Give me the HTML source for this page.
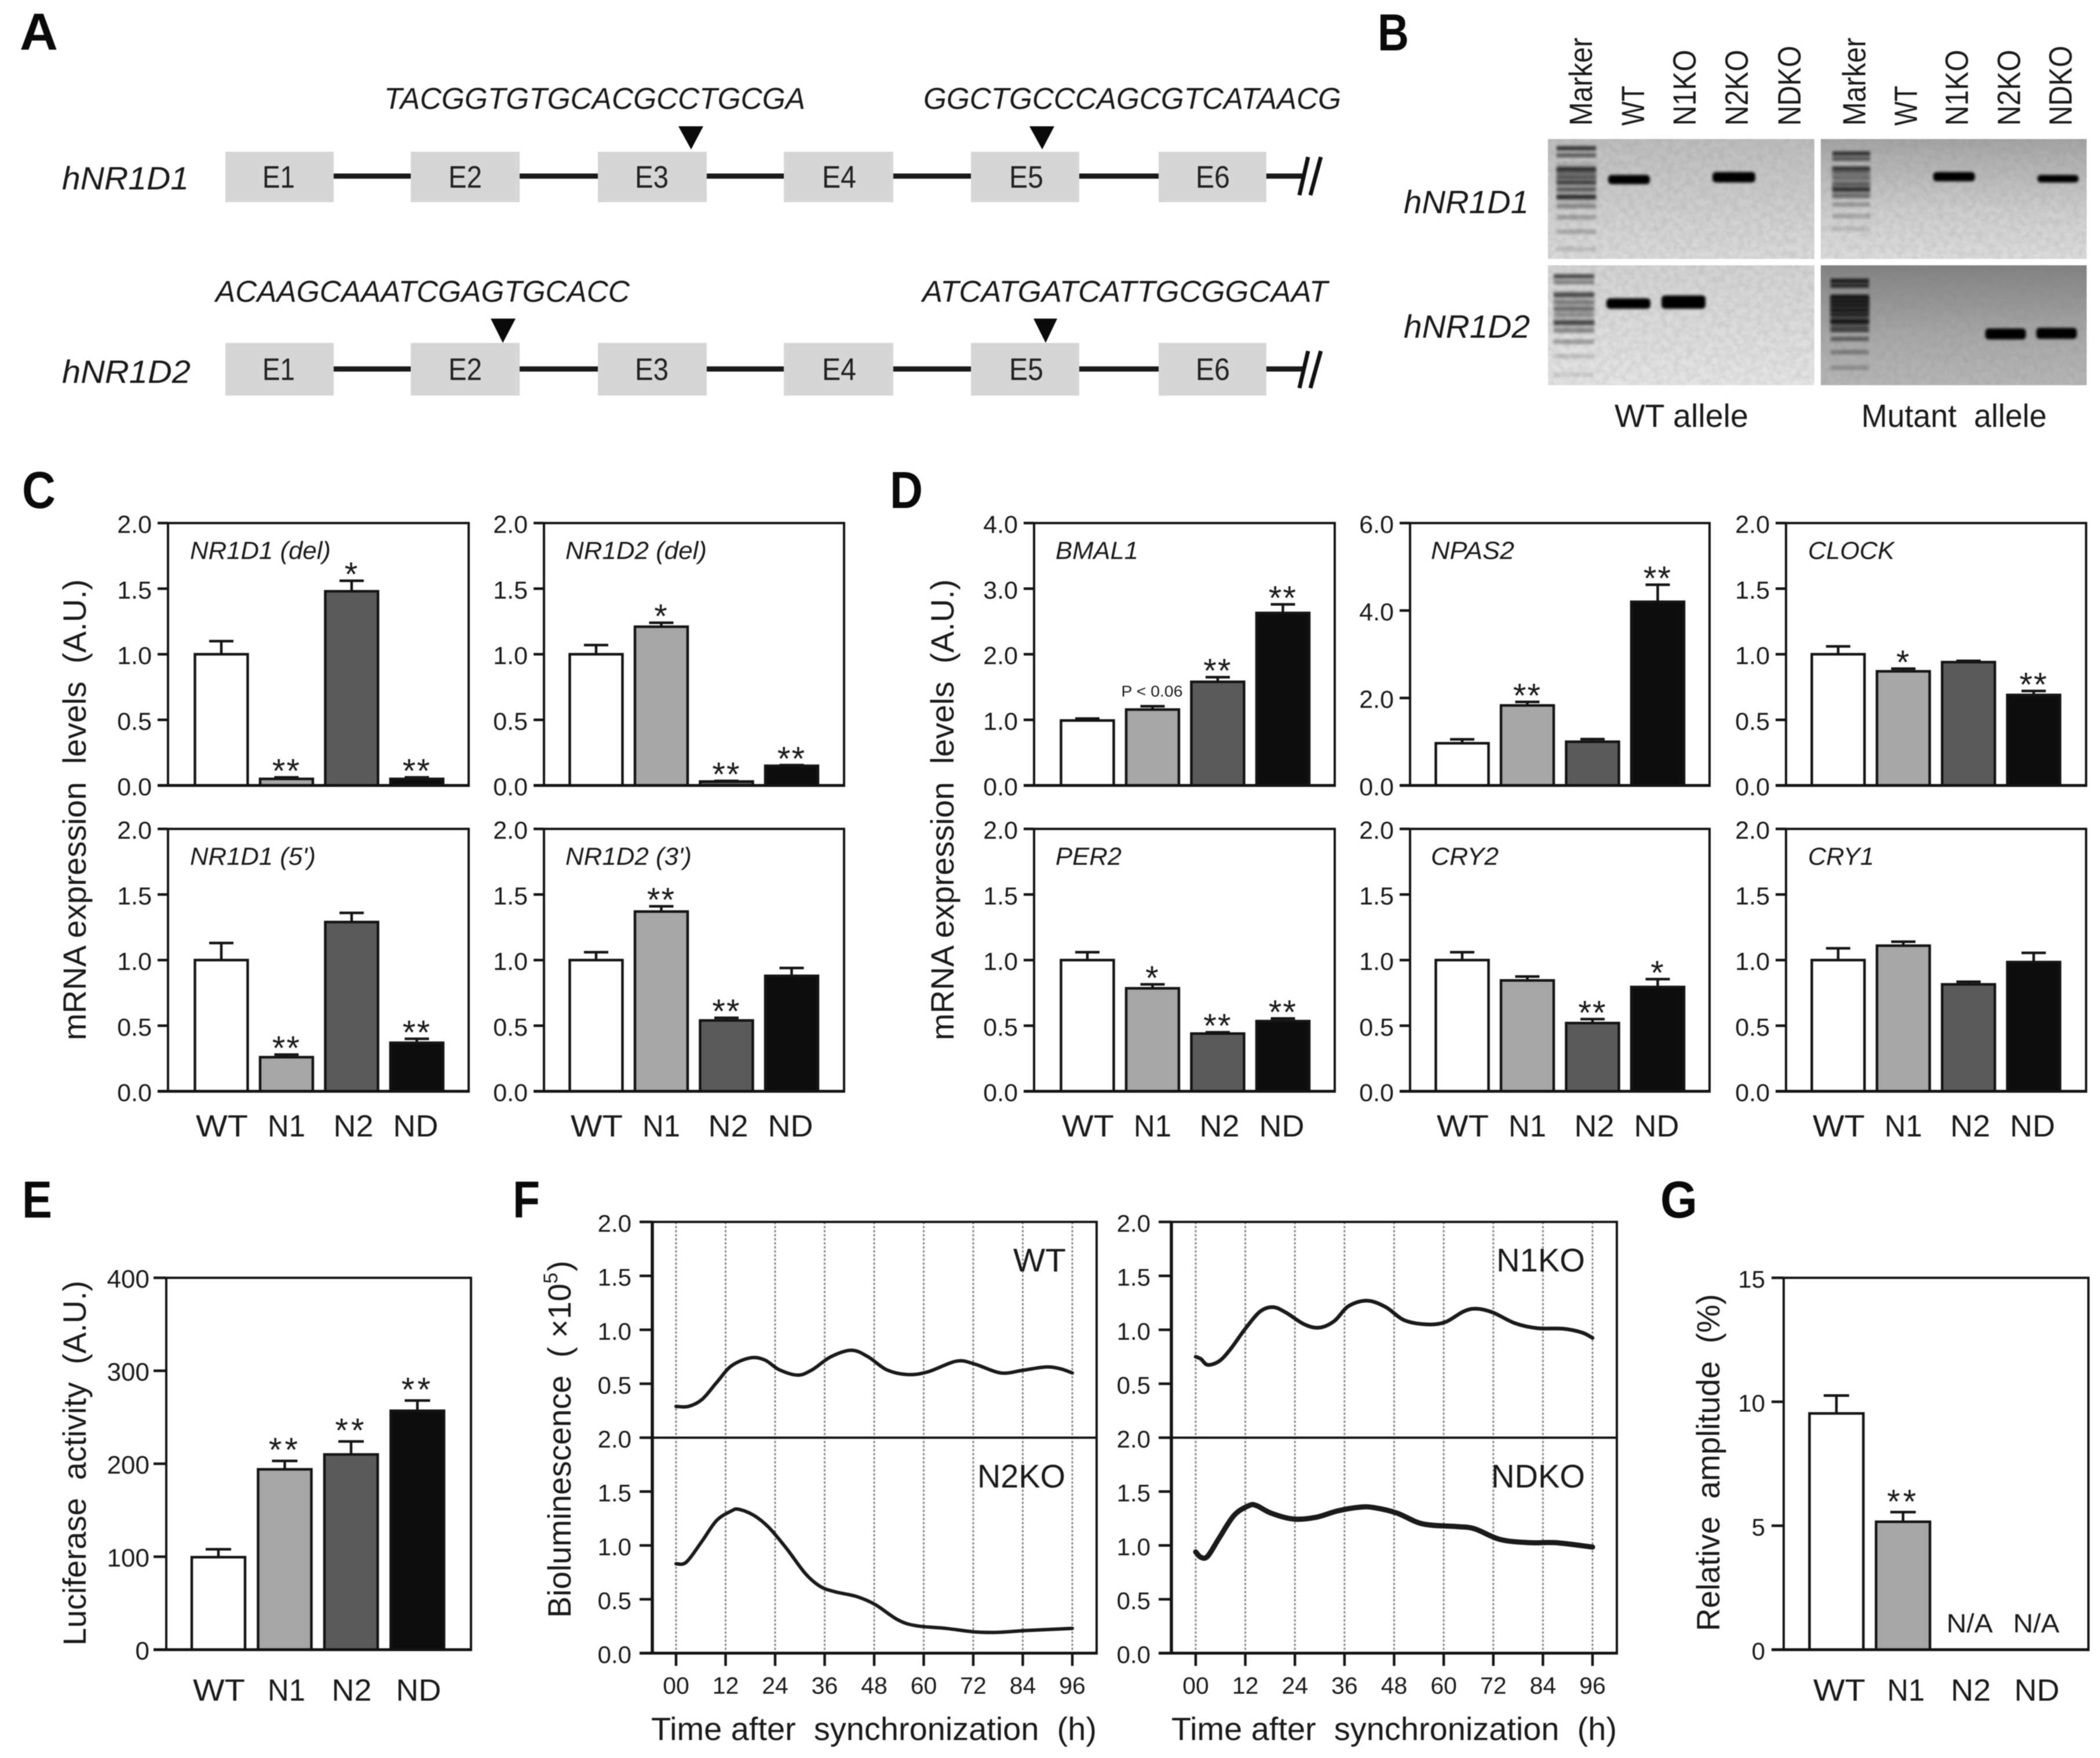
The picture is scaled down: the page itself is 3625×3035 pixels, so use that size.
<!DOCTYPE html>
<html lang="en">
<head>
<meta charset="utf-8">
<title>NR1D1 / NR1D2 knockout figure</title>
<style>
html,body{margin:0;padding:0;background:#fff;}
svg{display:block;font-family:"Liberation Sans",sans-serif;filter:blur(0.9px);}
svg text{fill:#1a1a1a;}
.ltr{font-weight:bold;font-size:90px;fill:#0a0a0a;}
.seq{font-style:italic;font-size:52px;}
.gene{font-style:italic;font-size:56px;}
.exon{font-size:54px;fill:#222;}
.lane{font-size:56px;}
.cap{font-size:56px;}
</style>
</head>
<body>
<svg id="fig" xmlns="http://www.w3.org/2000/svg" width="3625" height="3035" viewBox="0 0 3625 3035">
<defs>
<filter id="blurRung" x="-5%" y="-150%" width="110%" height="400%"><feGaussianBlur stdDeviation="2.2"/></filter>
<filter id="blurLane" x="-10%" y="-10%" width="120%" height="120%"><feGaussianBlur stdDeviation="3"/></filter>
<filter id="blurBand" x="-10%" y="-50%" width="120%" height="200%"><feGaussianBlur stdDeviation="2.4"/></filter>
<filter id="gelNoise" x="0" y="0" width="100%" height="100%">
<feTurbulence type="fractalNoise" baseFrequency="0.09" numOctaves="2" seed="7"/>
<feColorMatrix type="matrix" values="0 0 0 0 0.2  0 0 0 0 0.2  0 0 0 0 0.2  0.9 0 0 0 -0.3"/>
</filter>
<linearGradient id="gel1Bg" x1="0" y1="0" x2="0" y2="1"><stop offset="0" stop-color="#bcbcbc"/><stop offset="1" stop-color="#dadada"/></linearGradient>
<linearGradient id="gel2Bg" x1="0" y1="0" x2="0" y2="1"><stop offset="0" stop-color="#a4a4a4"/><stop offset="0.6" stop-color="#cdcdcd"/><stop offset="1" stop-color="#dcdcdc"/></linearGradient>
<linearGradient id="gel3Bg" x1="0" y1="0" x2="0" y2="1"><stop offset="0" stop-color="#d2d2d2"/><stop offset="1" stop-color="#e4e4e4"/></linearGradient>
<linearGradient id="gel4Bg" x1="0" y1="0" x2="0" y2="1"><stop offset="0" stop-color="#828282"/><stop offset="0.6" stop-color="#a8a8a8"/><stop offset="1" stop-color="#b6b6b6"/></linearGradient>
</defs>

<rect x="0" y="0" width="3625" height="3035" fill="#fff"/>

<text class="ltr" x="34" y="86" textLength="66" lengthAdjust="spacingAndGlyphs">A</text>
<text class="ltr" x="2378" y="87" textLength="54" lengthAdjust="spacingAndGlyphs">B</text>
<text class="ltr" x="38" y="877" textLength="58" lengthAdjust="spacingAndGlyphs">C</text>
<text class="ltr" x="1536" y="877" textLength="57" lengthAdjust="spacingAndGlyphs">D</text>
<text class="ltr" x="38" y="2102" textLength="52" lengthAdjust="spacingAndGlyphs">E</text>
<text class="ltr" x="885" y="2102" textLength="47" lengthAdjust="spacingAndGlyphs">F</text>
<text class="ltr" x="2866" y="2102" textLength="64" lengthAdjust="spacingAndGlyphs">G</text>

<g>
<line x1="389" y1="304" x2="2250" y2="304" stroke="#1a1a1a" stroke-width="9"/>
<line x1="2243" y1="337" x2="2258" y2="271" stroke="#111" stroke-width="7"/>
<line x1="2262" y1="337" x2="2280" y2="271" stroke="#111" stroke-width="7"/>
<rect x="389" y="262" width="187" height="87" fill="#d6d6d6"/>
<rect x="709" y="262" width="188" height="87" fill="#d6d6d6"/>
<rect x="1032" y="262" width="188" height="87" fill="#d6d6d6"/>
<rect x="1353" y="262" width="189" height="87" fill="#d6d6d6"/>
<rect x="1676" y="262" width="187" height="87" fill="#d6d6d6"/>
<rect x="2000" y="262" width="186" height="87" fill="#d6d6d6"/>
<text class="exon" x="453" y="324" textLength="56" lengthAdjust="spacingAndGlyphs">E1</text>
<text class="exon" x="774" y="324" textLength="58" lengthAdjust="spacingAndGlyphs">E2</text>
<text class="exon" x="1096" y="324" textLength="58" lengthAdjust="spacingAndGlyphs">E3</text>
<text class="exon" x="1419" y="324" textLength="59" lengthAdjust="spacingAndGlyphs">E4</text>
<text class="exon" x="1742" y="324" textLength="59" lengthAdjust="spacingAndGlyphs">E5</text>
<text class="exon" x="2064" y="324" textLength="59" lengthAdjust="spacingAndGlyphs">E6</text>
<polygon points="1171,218 1214,218 1193,258" fill="#0a0a0a"/>
<polygon points="1777,218 1820,218 1799,258" fill="#0a0a0a"/>
<text class="gene" x="107" y="327" textLength="219" lengthAdjust="spacingAndGlyphs">hNR1D1</text>
<text class="seq" x="663" y="188" textLength="727" lengthAdjust="spacingAndGlyphs">TACGGTGTGCACGCCTGCGA</text>
<text class="seq" x="1594" y="188" textLength="721" lengthAdjust="spacingAndGlyphs">GGCTGCCCAGCGTCATAACG</text>
</g>

<g>
<line x1="389" y1="637" x2="2250" y2="637" stroke="#1a1a1a" stroke-width="9"/>
<line x1="2243" y1="670" x2="2258" y2="606" stroke="#111" stroke-width="7"/>
<line x1="2262" y1="670" x2="2280" y2="606" stroke="#111" stroke-width="7"/>
<rect x="389" y="592" width="187" height="91" fill="#d6d6d6"/>
<rect x="709" y="592" width="188" height="91" fill="#d6d6d6"/>
<rect x="1032" y="592" width="188" height="91" fill="#d6d6d6"/>
<rect x="1353" y="592" width="189" height="91" fill="#d6d6d6"/>
<rect x="1676" y="592" width="187" height="91" fill="#d6d6d6"/>
<rect x="2000" y="592" width="186" height="91" fill="#d6d6d6"/>
<text class="exon" x="453" y="656" textLength="56" lengthAdjust="spacingAndGlyphs">E1</text>
<text class="exon" x="774" y="656" textLength="58" lengthAdjust="spacingAndGlyphs">E2</text>
<text class="exon" x="1096" y="656" textLength="58" lengthAdjust="spacingAndGlyphs">E3</text>
<text class="exon" x="1419" y="656" textLength="59" lengthAdjust="spacingAndGlyphs">E4</text>
<text class="exon" x="1742" y="656" textLength="59" lengthAdjust="spacingAndGlyphs">E5</text>
<text class="exon" x="2064" y="656" textLength="59" lengthAdjust="spacingAndGlyphs">E6</text>
<polygon points="847,550 890,550 868,592" fill="#0a0a0a"/>
<polygon points="1784,550 1825,550 1805,592" fill="#0a0a0a"/>
<text class="gene" x="107" y="661" textLength="222" lengthAdjust="spacingAndGlyphs">hNR1D2</text>
<text class="seq" x="372" y="521" textLength="715" lengthAdjust="spacingAndGlyphs">ACAAGCAAATCGAGTGCACC</text>
<text class="seq" x="1592" y="521" textLength="700" lengthAdjust="spacingAndGlyphs">ATCATGATCATTGCGGCAAT</text>
</g>

<g id="gelLayer"></g>
<g>
<text class="lane" transform="rotate(-90 2748 217)" x="2748" y="217" textLength="152" lengthAdjust="spacingAndGlyphs">Marker</text>
<text class="lane" transform="rotate(-90 2838 217)" x="2838" y="217" textLength="69" lengthAdjust="spacingAndGlyphs">WT</text>
<text class="lane" transform="rotate(-90 2927 217)" x="2927" y="217" textLength="131" lengthAdjust="spacingAndGlyphs">N1KO</text>
<text class="lane" transform="rotate(-90 3017 217)" x="3017" y="217" textLength="131" lengthAdjust="spacingAndGlyphs">N2KO</text>
<text class="lane" transform="rotate(-90 3108 217)" x="3108" y="217" textLength="138" lengthAdjust="spacingAndGlyphs">NDKO</text>
<text class="lane" transform="rotate(-90 3220 217)" x="3220" y="217" textLength="152" lengthAdjust="spacingAndGlyphs">Marker</text>
<text class="lane" transform="rotate(-90 3309 217)" x="3309" y="217" textLength="69" lengthAdjust="spacingAndGlyphs">WT</text>
<text class="lane" transform="rotate(-90 3397 217)" x="3397" y="217" textLength="131" lengthAdjust="spacingAndGlyphs">N1KO</text>
<text class="lane" transform="rotate(-90 3487 217)" x="3487" y="217" textLength="131" lengthAdjust="spacingAndGlyphs">N2KO</text>
<text class="lane" transform="rotate(-90 3576 217)" x="3576" y="217" textLength="138" lengthAdjust="spacingAndGlyphs">NDKO</text>
<text class="gene" x="2423" y="368" textLength="216" lengthAdjust="spacingAndGlyphs">hNR1D1</text>
<text class="gene" x="2423" y="583" textLength="218" lengthAdjust="spacingAndGlyphs">hNR1D2</text>
<text class="cap" x="2787" y="737" textLength="231" lengthAdjust="spacingAndGlyphs">WT allele</text>
<text class="cap" x="3213" y="737" textLength="320" lengthAdjust="spacingAndGlyphs">Mutant&#160;&#160;allele</text>
</g>

<text class="cap" transform="rotate(-90 148 1796)" x="148" y="1796" font-size="57" textLength="796" lengthAdjust="spacingAndGlyphs">mRNA expression&#160;&#160;levels&#160;&#160;(A.U.)</text>
<text class="cap" transform="rotate(-90 1646 1796)" x="1646" y="1796" font-size="57" textLength="796" lengthAdjust="spacingAndGlyphs">mRNA expression&#160;&#160;levels&#160;&#160;(A.U.)</text>
<text class="cap" transform="rotate(-90 148 2841)" x="148" y="2841" textLength="630" lengthAdjust="spacingAndGlyphs">Luciferase&#160;&#160;activity&#160;&#160;(A.U.)</text>
<text class="cap" transform="rotate(-90 2968 2816)" x="2968" y="2816" textLength="582" lengthAdjust="spacingAndGlyphs">Relative&#160;&#160;amplitude&#160;&#160;(%)</text>
<text class="cap" transform="rotate(-90 985 2793)" x="985" y="2793" textLength="577" lengthAdjust="spacingAndGlyphs">Bioluminescence&#160;&#160;(&#160;×10</text>
<text transform="rotate(-90 962 2216)" x="962" y="2216" font-size="34">5</text>
<text class="cap" transform="rotate(-90 985 2195)" x="985" y="2195">)</text>
<text class="cap" x="1124" y="3004" textLength="769" lengthAdjust="spacingAndGlyphs">Time after&#160;&#160;synchronization&#160;&#160;(h)</text>
<text class="cap" x="2022" y="3004" textLength="769" lengthAdjust="spacingAndGlyphs">Time after&#160;&#160;synchronization&#160;&#160;(h)</text>

<g id="chartLayer"></g>
</svg>

<script>
// ---------- chart data ----------
const categories = ['WT', 'N1', 'N2', 'ND'];
const ticks2 = [0, 0.5, 1, 1.5, 2];
const tickLabels2 = ['0.0', '0.5', '1.0', '1.5', '2.0'];
const ticksBmal = [0, 1, 2, 3, 4];
const tickLabelsBmal = ['0.0', '1.0', '2.0', '3.0', '4.0'];
const ticksNpas = [0, 2, 4, 6];
const tickLabelsNpas = ['0.0', '2.0', '4.0', '6.0'];
const ticksLuc = [0, 100, 200, 300, 400];
const tickLabelsLuc = ['0', '100', '200', '300', '400'];
const ticksAmp = [0, 5, 10, 15];
const tickLabelsAmp = ['0', '5', '10', '15'];

const nr1d1DelValues = [1.0, 0.05, 1.48, 0.05];
const nr1d1DelErrors = [0.10, 0.012, 0.08, 0.012];
const nr1d1DelSig = ['', '**', '*', '**'];
const nr1d2DelValues = [1.0, 1.21, 0.03, 0.15];
const nr1d2DelErrors = [0.07, 0.03, 0.005, 0.005];
const nr1d2DelSig = ['', '*', '**', '**'];
const nr1d15Values = [1.0, 0.26, 1.29, 0.37];
const nr1d15Errors = [0.13, 0.02, 0.07, 0.03];
const nr1d15Sig = ['', '**', '', '**'];
const nr1d23Values = [1.0, 1.37, 0.54, 0.88];
const nr1d23Errors = [0.06, 0.04, 0.02, 0.06];
const nr1d23Sig = ['', '**', '**', ''];

const bmal1Values = [0.99, 1.157, 1.58, 2.63];
const bmal1Errors = [0.03, 0.05, 0.07, 0.13];
const bmal1Sig = ['', 'P < 0.06', '**', '**'];
const npas2Values = [0.965, 1.83, 1.0, 4.2];
const npas2Errors = [0.09, 0.08, 0.06, 0.39];
const npas2Sig = ['', '**', '', '**'];
const clockValues = [1.0, 0.87, 0.94, 0.69];
const clockErrors = [0.06, 0.02, 0.01, 0.03];
const clockSig = ['', '*', '', '**'];
const per2Values = [1.0, 0.785, 0.44, 0.535];
const per2Errors = [0.06, 0.03, 0.01, 0.02];
const per2Sig = ['', '*', '**', '**'];
const cry2Values = [1.0, 0.845, 0.52, 0.795];
const cry2Errors = [0.06, 0.03, 0.03, 0.06];
const cry2Sig = ['', '', '**', '*'];
const cry1Values = [1.0, 1.11, 0.815, 0.985];
const cry1Errors = [0.09, 0.03, 0.02, 0.07];
const cry1Sig = ['', '', '', ''];

const luciferaseValues = [99.5, 194, 210, 257];
const luciferaseErrors = [8.5, 9, 14, 11];
const luciferaseSig = ['', '**', '**', '**'];
const amplitudeValues = [9.53, 5.16, null, null];
const amplitudeErrors = [0.72, 0.39, 0, 0];
const amplitudeSig = ['', '**', '', ''];

const hourTicks = [0, 12, 24, 36, 48, 60, 72, 84, 96];
const hourTickLabels = ['00', '12', '24', '36', '48', '60', '72', '84', '96'];
const lumTicksUpper = [0.5, 1, 1.5, 2];
const lumTicksLower = [0, 0.5, 1, 1.5, 2];
const lumTickLabelsUpper = ['0.5', '1.0', '1.5', '2.0'];
const lumTickLabelsLower = ['0.0', '0.5', '1.0', '1.5', '2.0'];

const wtHours = [0, 3, 6.3, 9.8, 13.4, 18, 21.5, 25, 29.5, 33, 37.5, 42.5, 46.5, 51, 56, 61, 68, 72.5, 78.7, 84, 89.5, 93, 96];
const wtLum = [0.29, 0.29, 0.355, 0.51, 0.665, 0.74, 0.72, 0.63, 0.58, 0.63, 0.75, 0.81, 0.75, 0.63, 0.585, 0.61, 0.71, 0.68, 0.60, 0.625, 0.655, 0.64, 0.6];
const n2koHours = [0, 2.5, 6.3, 9.8, 13.4, 15.2, 18.8, 22.4, 26.8, 31.3, 34.9, 38.5, 43.8, 48.3, 53.7, 58.1, 65.3, 72.5, 77.8, 85, 96];
const n2koLum = [0.83, 0.845, 1.04, 1.23, 1.32, 1.335, 1.28, 1.17, 0.97, 0.74, 0.62, 0.57, 0.525, 0.45, 0.31, 0.255, 0.23, 0.197, 0.193, 0.21, 0.23];
const n1koHours = [0, 1.25, 2.9, 5.7, 8.4, 12, 15.6, 18.7, 21.8, 26.3, 29.9, 33.5, 37, 41.5, 46, 50.4, 55.8, 60.3, 64.8, 67.9, 71.9, 77.3, 82.6, 88.9, 93.4, 96];
const n1koLum = [0.75, 0.73, 0.675, 0.71, 0.82, 1.01, 1.17, 1.21, 1.16, 1.05, 1.02, 1.08, 1.22, 1.27, 1.21, 1.09, 1.05, 1.07, 1.17, 1.195, 1.16, 1.06, 1.015, 1.01, 0.975, 0.925];
const ndkoHours = [0, 1.25, 2.9, 5.7, 9.3, 12.9, 14.7, 18.2, 23.6, 29, 34.3, 39.7, 43.3, 48.7, 54.9, 63, 67.4, 73.7, 80.9, 87.1, 96];
const ndkoLum = [0.94, 0.89, 0.90, 1.07, 1.28, 1.37, 1.37, 1.30, 1.245, 1.26, 1.32, 1.355, 1.35, 1.30, 1.2, 1.175, 1.155, 1.055, 1.025, 1.025, 0.985];

// ---------- gel image content (band centre, darkness) ----------
const gel1Rungs = [[256,.85],[268,.6],[292,.85],[298,.45],[306,.6],[315,.75],[327,.55],[340,.9],[356,.4],[375,.3],[400,.25],[430,.15]];
const gel2Rungs = [[265,.85],[274,.6],[291,.8],[298,.35],[307,.35],[318,.5],[327,.85],[338,.4],[353,.3],[373,.25],[395,.15]];
const gel3Rungs = [[477,.75],[487,.45],[509,.7],[522,.35],[533,.45],[543,.25],[557,.75],[571,.4],[590,.35],[615,.15],[647,.12]];
const gel4Rungs = [[485,1],[493,.9],[513,1],[520,.9],[527,.9],[535,.9],[543,.75],[555,1],[570,.6],[585,.55],[608,.35],[635,.25]];

// ---------- helpers ----------
const NS = 'http://www.w3.org/2000/svg';
const chartLayer = document.getElementById('chartLayer');
const gelLayer = document.getElementById('gelLayer');
const INK = '#141414';

function mk(tag, attrs, parent) {
  const el = document.createElementNS(NS, tag);
  for (const k in attrs) el.setAttribute(k, attrs[k]);
  parent.appendChild(el);
  return el;
}
function txt(str, attrs, parent) {
  const el = mk('text', attrs, parent);
  el.textContent = str;
  return el;
}

// ---------- gels ----------
function drawGel(cfg) {
  const g = mk('g', {}, gelLayer);
  
  
  const bg = mk('rect', {x: cfg.x, y: cfg.y, width: cfg.w, height: cfg.h, fill: cfg.fill}, g);
  
  
  const noise = mk('rect', {x: cfg.x, y: cfg.y, width: cfg.w, height: cfg.h, filter: 'url(#gelNoise)', opacity: 0.35}, g);
  
  
  const first = cfg.rungs[0][0];
  const last = cfg.rungs[cfg.rungs.length - 1][0];
  const lane = mk('rect', {x: cfg.ladderX, y: first + 25, width: cfg.ladderW, height: (last - first) * 0.4, fill: '#101010', opacity: cfg.laneOpacity, filter: 'url(#blurLane)'}, g);
  
  
  cfg.rungs.forEach(function (r) {
    const rung = mk('rect', {x: cfg.ladderX, y: r[0] - 4, width: cfg.ladderW, height: 8, fill: '#0c0c0c', opacity: r[1] * 0.85, filter: 'url(#blurRung)'}, g);
    
    
  });
  cfg.bands.forEach(function (b) {
    const band = mk('rect', {x: b[0], y: b[2], width: b[1] - b[0], height: b[3] - b[2], rx: 6, fill: '#050505', filter: 'url(#blurBand)'}, g);
    
    
  });
}
drawGel({name: 'wt-allele-hnr1d1', x: 2672, y: 240, w: 460, h: 207, fill: 'url(#gel1Bg)', ladderX: 2687, ladderW: 68, laneOpacity: 0.15, rungs: gel1Rungs, bands: [[2776, 2848, 302, 318], [2956, 3030, 297, 315]]});
drawGel({name: 'mutant-allele-hnr1d1', x: 3143, y: 240, w: 459, h: 207, fill: 'url(#gel2Bg)', ladderX: 3163, ladderW: 65, laneOpacity: 0.2, rungs: gel2Rungs, bands: [[3337, 3409, 297, 313], [3517, 3588, 302, 315]]});
drawGel({name: 'wt-allele-hnr1d2', x: 2672, y: 458, w: 460, h: 207, fill: 'url(#gel3Bg)', ladderX: 2682, ladderW: 70, laneOpacity: 0.18, rungs: gel3Rungs, bands: [[2773, 2849, 515, 533], [2868, 2944, 510, 533]]});
drawGel({name: 'mutant-allele-hnr1d2', x: 3143, y: 458, w: 459, h: 207, fill: 'url(#gel4Bg)', ladderX: 3160, ladderW: 66, laneOpacity: 0.5, rungs: gel4Rungs, bands: [[3427, 3497, 567, 586], [3515, 3585, 566, 585]]});

// ---------- bar panels ----------
const barFills = ['#ffffff', '#a6a6a6', '#5a5a5a', '#0d0d0d'];
const xLabelWidths = {WT: 90, N1: 65, N2: 69, ND: 78};

function drawBarPanel(cfg) {
  const g = mk('g', {}, chartLayer);
  
  
  const yOf = function (v) { return cfg.bottom - v / cfg.yMax * (cfg.bottom - cfg.top); };
  const xOf = function (i) { return cfg.left + cfg.offset + i * cfg.pitch; };

  const frame = mk('rect', {x: cfg.left, y: cfg.top, width: cfg.right - cfg.left, height: cfg.bottom - cfg.top, fill: 'none', stroke: INK, 'stroke-width': 4}, g);
  
  

  cfg.ticks.forEach(function (t, i) {
    const y = yOf(t);
    const tick = mk('line', {x1: cfg.left - cfg.tickLen, x2: cfg.left, y1: y, y2: y, stroke: INK, 'stroke-width': 4.5}, g);
    
    
    const lab = txt(cfg.tickLabels[i], {x: cfg.left - cfg.tickLen - cfg.labelGap, y: y + 17, 'text-anchor': 'end', 'font-size': cfg.tickSize}, g);
    
    
  });

  categories.forEach(function (c, i) {
    const v = cfg.values[i];
    const cx = xOf(i);
    if (v === null) {
      const na = txt('N/A', {x: cx, y: cfg.bottom - 30, 'text-anchor': 'middle', 'font-size': 45, textLength: 80, lengthAdjust: 'spacingAndGlyphs'}, g);
      
      
    } else {
      const top = yOf(v);
      const errTop = yOf(v + cfg.errors[i]);
      const stem = mk('line', {x1: cx, x2: cx, y1: top, y2: errTop, stroke: INK, 'stroke-width': 4.5}, g);
      
      
      const cap = mk('line', {x1: cx - cfg.capW / 2, x2: cx + cfg.capW / 2, y1: errTop, y2: errTop, stroke: INK, 'stroke-width': 4.5}, g);
      
      
      const bar = mk('rect', {x: cx - cfg.barW / 2, y: top, width: cfg.barW, height: cfg.bottom - top, fill: barFills[i], stroke: INK, 'stroke-width': 4.5}, g);
      
      
      const s = cfg.sig[i];
      if (s && s.charAt(0) === 'P') {
        const p = txt(s, {x: cx - 1, y: errTop - 17, 'text-anchor': 'middle', 'font-size': 27, textLength: 106, lengthAdjust: 'spacingAndGlyphs'}, g);
        
        
      } else if (s) {
        const st = txt(s, {x: cx, y: errTop + 9 + (cfg.starDy || 0), 'text-anchor': 'middle', 'font-size': 58, 'letter-spacing': cfg.starGap || 2}, g);
        
        
      }
    }
    if (cfg.xLabelY) {
      const xl = txt(c, {x: cx + cfg.labelDx[i], y: cfg.xLabelY, 'text-anchor': 'middle', 'font-size': 53, textLength: xLabelWidths[c], lengthAdjust: 'spacingAndGlyphs'}, g);
      
      
    }
  });

  const base = mk('line', {x1: cfg.left - cfg.tickLen, x2: cfg.right + 2, y1: cfg.bottom, y2: cfg.bottom, stroke: INK, 'stroke-width': 5}, g);
  
  

  if (cfg.title) {
    const t = txt(cfg.title, {x: cfg.left + cfg.titleDx, y: cfg.top + 62, 'font-style': 'italic', 'font-size': 43, textLength: cfg.titleW, lengthAdjust: 'spacingAndGlyphs'}, g);
    
    
  }
}

const rowTop = {top: 903, bottom: 1356};
const rowBot = {top: 1431, bottom: 1884, xLabelY: 1962};
const barStyle = {pitch: 112.5, barW: 91, capW: 42, tickLen: 18, labelGap: 10, tickSize: 43, labelDx: [1, 0, 3, -2]};
const colC1 = {left: 290, right: 809, offset: 92, titleDx: 38};
const colC2 = {left: 939, right: 1457, offset: 90, titleDx: 37};
const colD1 = {left: 1785, right: 2304, offset: 92, titleDx: 37};
const colD2 = {left: 2434, right: 2951, offset: 90, titleDx: 36};
const colD3 = {left: 3083, right: 3601, offset: 90, titleDx: 38};
const axis2 = {yMax: 2, ticks: ticks2, tickLabels: tickLabels2};

drawBarPanel(Object.assign({name: 'nr1d1-del', title: 'NR1D1 (del)', titleW: 243, values: nr1d1DelValues, errors: nr1d1DelErrors, sig: nr1d1DelSig}, barStyle, axis2, rowTop, colC1));
drawBarPanel(Object.assign({name: 'nr1d2-del', title: 'NR1D2 (del)', titleW: 244, values: nr1d2DelValues, errors: nr1d2DelErrors, sig: nr1d2DelSig}, barStyle, axis2, rowTop, colC2));
drawBarPanel(Object.assign({name: 'nr1d1-5p', title: "NR1D1 (5')", titleW: 217, values: nr1d15Values, errors: nr1d15Errors, sig: nr1d15Sig}, barStyle, axis2, rowBot, colC1));
drawBarPanel(Object.assign({name: 'nr1d2-3p', title: "NR1D2 (3')", titleW: 218, values: nr1d23Values, errors: nr1d23Errors, sig: nr1d23Sig}, barStyle, axis2, rowBot, colC2));

drawBarPanel(Object.assign({name: 'bmal1', title: 'BMAL1', titleW: 143, values: bmal1Values, errors: bmal1Errors, sig: bmal1Sig, yMax: 4, ticks: ticksBmal, tickLabels: tickLabelsBmal}, barStyle, rowTop, colD1));
drawBarPanel(Object.assign({name: 'npas2', title: 'NPAS2', titleW: 144, values: npas2Values, errors: npas2Errors, sig: npas2Sig, yMax: 6, ticks: ticksNpas, tickLabels: tickLabelsNpas}, barStyle, rowTop, colD2));
drawBarPanel(Object.assign({name: 'clock', title: 'CLOCK', titleW: 149, values: clockValues, errors: clockErrors, sig: clockSig}, barStyle, axis2, rowTop, colD3));
drawBarPanel(Object.assign({name: 'per2', title: 'PER2', titleW: 114, values: per2Values, errors: per2Errors, sig: per2Sig}, barStyle, axis2, rowBot, colD1));
drawBarPanel(Object.assign({name: 'cry2', title: 'CRY2', titleW: 117, values: cry2Values, errors: cry2Errors, sig: cry2Sig}, barStyle, axis2, rowBot, colD2));
drawBarPanel(Object.assign({name: 'cry1', title: 'CRY1', titleW: 114, values: cry1Values, errors: cry1Errors, sig: cry1Sig}, barStyle, axis2, rowBot, colD3));

drawBarPanel({name: 'luciferase', values: luciferaseValues, errors: luciferaseErrors, sig: luciferaseSig, yMax: 400, ticks: ticksLuc, tickLabels: tickLabelsLuc,
  left: 287, right: 813, top: 2206, bottom: 2848, offset: 90, pitch: 114.5, barW: 92, capW: 44, tickLen: 22, labelGap: 7, tickSize: 44, xLabelY: 2936, labelDx: [1, 3, 1, 2], starDy: -8, starGap: 5});
drawBarPanel({name: 'relative-amplitude', values: amplitudeValues, errors: amplitudeErrors, sig: amplitudeSig, yMax: 15, ticks: ticksAmp, tickLabels: tickLabelsAmp,
  left: 3079, right: 3605, top: 2206, bottom: 2848, offset: 91, pitch: 115, barW: 93, capW: 44, tickLen: 21, labelGap: 11, tickSize: 42, xLabelY: 2936, labelDx: [5, 5, 2, 1], starDy: -7, starGap: 5});

// ---------- line panels ----------
function smoothPath(points) {
  let d = 'M' + points[0][0].toFixed(1) + ' ' + points[0][1].toFixed(1);
  for (let i = 0; i < points.length - 1; i++) {
    const p0 = points[Math.max(i - 1, 0)];
    const p1 = points[i];
    const p2 = points[i + 1];
    const p3 = points[Math.min(i + 2, points.length - 1)];
    const c1x = p1[0] + (p2[0] - p0[0]) / 6;
    const c1y = p1[1] + (p2[1] - p0[1]) / 6;
    const c2x = p2[0] - (p3[0] - p1[0]) / 6;
    const c2y = p2[1] - (p3[1] - p1[1]) / 6;
    d += 'C' + c1x.toFixed(1) + ' ' + c1y.toFixed(1) + ' ' + c2x.toFixed(1) + ' ' + c2y.toFixed(1) + ' ' + p2[0].toFixed(1) + ' ' + p2[1].toFixed(1);
  }
  return d;
}

function drawLineColumn(cfg) {
  const g = mk('g', {}, chartLayer);
  
  
  const T = 2109.5, M = 2482, B = 2854;
  const xOf = function (h) { return cfg.x0 + h / 96 * (cfg.x96 - cfg.x0); };
  const yUp = function (v) { return M - v / 2 * (M - T); };
  const yLo = function (v) { return B - v / 2 * (B - M); };

  hourTicks.forEach(function (h, i) {
    const x = xOf(h);
    const grid = mk('line', {x1: x, x2: x, y1: T, y2: B, stroke: '#8c8c8c', 'stroke-width': 3, 'stroke-dasharray': '4 3'}, g);
    
    
    const tick = mk('line', {x1: x, x2: x, y1: B, y2: B + 22, stroke: INK, 'stroke-width': 4.5}, g);
    
    
    const lab = txt(hourTickLabels[i], {x: x, y: 2924, 'text-anchor': 'middle', 'font-size': 41}, g);
    
    
  });

  const frame = mk('rect', {x: cfg.left, y: T, width: cfg.right - cfg.left, height: B - T, fill: 'none', stroke: INK, 'stroke-width': 4}, g);
  
  
  const leftAxis = mk('line', {x1: cfg.left, x2: cfg.left, y1: T, y2: B, stroke: INK, 'stroke-width': 5.5}, g);
  
  
  const divider = mk('line', {x1: cfg.left - 22, x2: cfg.right, y1: M, y2: M, stroke: INK, 'stroke-width': 4}, g);
  
  
  const base = mk('line', {x1: cfg.left - 22, x2: cfg.right + 2, y1: B, y2: B, stroke: INK, 'stroke-width': 5}, g);
  
  

  lumTicksUpper.forEach(function (t, i) {
    const y = yUp(t);
    const tick = mk('line', {x1: cfg.left - 22, x2: cfg.left, y1: y, y2: y, stroke: INK, 'stroke-width': 4.5}, g);
    
    
    const lab = txt(lumTickLabelsUpper[i], {x: cfg.left - 36, y: y + 17, 'text-anchor': 'end', 'font-size': 42}, g);
    
    
  });
  lumTicksLower.forEach(function (t, i) {
    const y = yLo(t);
    const tick = mk('line', {x1: cfg.left - 22, x2: cfg.left, y1: y, y2: y, stroke: INK, 'stroke-width': 4.5}, g);
    
    
    const lab = txt(lumTickLabelsLower[i], {x: cfg.left - 36, y: y + 17, 'text-anchor': 'end', 'font-size': 42}, g);
    
    
  });

  const upPts = cfg.upHours.map(function (h, i) { return [xOf(h), yUp(cfg.upLum[i])]; });
  const upLine = mk('path', {d: smoothPath(upPts), fill: 'none', stroke: '#1a1a1a', 'stroke-width': cfg.upWidth, 'stroke-linecap': 'round', 'stroke-linejoin': 'round'}, g);
  
  
  const loPts = cfg.loHours.map(function (h, i) { return [xOf(h), yLo(cfg.loLum[i])]; });
  const loLine = mk('path', {d: smoothPath(loPts), fill: 'none', stroke: '#1a1a1a', 'stroke-width': cfg.loWidth, 'stroke-linecap': 'round', 'stroke-linejoin': 'round'}, g);
  
  

  const upLab = txt(cfg.upLabel, {x: cfg.upLabelX, y: 2195, 'font-size': 57, textLength: cfg.upLabelW, lengthAdjust: 'spacingAndGlyphs'}, g);
  
  
  const loLab = txt(cfg.loLabel, {x: cfg.loLabelX, y: 2568, 'font-size': 57, textLength: cfg.loLabelW, lengthAdjust: 'spacingAndGlyphs'}, g);
  
  
}

drawLineColumn({name: 'left', left: 1126, right: 1893, x0: 1167, x96: 1851,
  upHours: wtHours, upLum: wtLum, upWidth: 6, upName: 'wt', upLabel: 'WT', upLabelX: 1749, upLabelW: 91,
  loHours: n2koHours, loLum: n2koLum, loWidth: 6, loName: 'n2ko', loLabel: 'N2KO', loLabelX: 1687, loLabelW: 152});
drawLineColumn({name: 'right', left: 2022, right: 2791, x0: 2064, x96: 2749,
  upHours: n1koHours, upLum: n1koLum, upWidth: 6.5, upName: 'n1ko', upLabel: 'N1KO', upLabelX: 2583, upLabelW: 153,
  loHours: ndkoHours, loLum: ndkoLum, loWidth: 9, loName: 'ndko', loLabel: 'NDKO', loLabelX: 2574, loLabelW: 162});
</script>
</body>
</html>
